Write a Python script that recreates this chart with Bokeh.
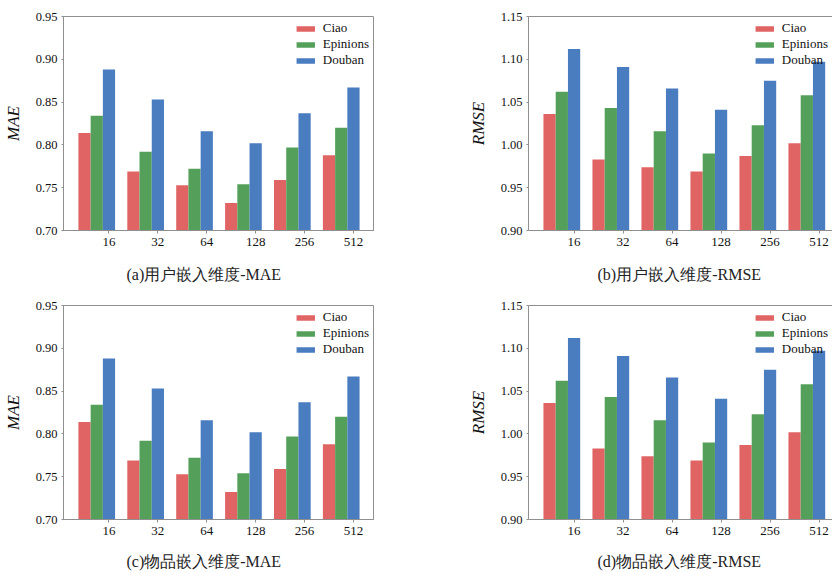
from bokeh.plotting import figure
from bokeh.layouts import column, row
from bokeh.models import (Range1d, FixedTicker, LinearAxis, ColumnDataSource,
                          PrintfTickFormatter, Title)
from bokeh.transform import dodge
from bokeh.embed import file_html
from bokeh.resources import INLINE

dims = ["16", "32", "64", "128", "256", "512"]
series = ["Ciao", "Epinions", "Douban"]

user_mae_ciao = [0.814, 0.769, 0.753, 0.732, 0.759, 0.788]
user_mae_epinions = [0.834, 0.792, 0.772, 0.754, 0.797, 0.820]
user_mae_douban = [0.888, 0.853, 0.816, 0.802, 0.837, 0.867]

user_rmse_ciao = [1.036, 0.983, 0.974, 0.969, 0.987, 1.002]
user_rmse_epinions = [1.062, 1.043, 1.016, 0.990, 1.023, 1.058]
user_rmse_douban = [1.112, 1.091, 1.066, 1.041, 1.075, 1.097]

item_mae_ciao = [0.814, 0.769, 0.753, 0.732, 0.759, 0.788]
item_mae_epinions = [0.834, 0.792, 0.772, 0.754, 0.797, 0.820]
item_mae_douban = [0.888, 0.853, 0.816, 0.802, 0.837, 0.867]

item_rmse_ciao = [1.036, 0.983, 0.974, 0.969, 0.987, 1.002]
item_rmse_epinions = [1.062, 1.043, 1.016, 0.990, 1.023, 1.058]
item_rmse_douban = [1.112, 1.091, 1.066, 1.041, 1.075, 1.097]

mae_ticks = [0.70, 0.75, 0.80, 0.85, 0.90, 0.95]
rmse_ticks = [0.90, 0.95, 1.00, 1.05, 1.10, 1.15]

captions = ["(a)用户嵌入维度-MAE", "(b)用户嵌入维度-RMSE",
            "(c)物品嵌入维度-MAE", "(d)物品嵌入维度-RMSE"]

colors = ["#e06464", "#54a05a", "#4a7cc0"]
FRAME = "#8f8f8f"
SERIF = "Liberation Serif"
X_START = -0.68


def panel(ciao, epin, douban, ticks, ylabel, caption, width, height,
          x_end, mb_left, mb_right, mb_top, mb_bottom, right_side,
          cap_offset, spacer, ylab_standoff):
    xs = list(range(len(dims)))
    src = ColumnDataSource(dict(x=xs, Ciao=ciao, Epinions=epin, Douban=douban))
    p = figure(width=width, height=height, output_backend="svg", toolbar_location=None,
               x_range=Range1d(X_START, x_end), y_range=Range1d(ticks[0], ticks[-1]),
               min_border_left=mb_left, min_border_right=mb_right,
               min_border_top=mb_top, min_border_bottom=mb_bottom)
    offs = [-0.25, 0.0, 0.25]
    for name, col, off in zip(series, colors, offs):
        p.vbar(x=dodge("x", off), top=name, bottom=ticks[0], width=0.25, source=src,
               fill_color=col, line_color=None, legend_label=name)
    p.grid.visible = False
    p.background_fill_color = "white"
    p.border_fill_color = "white"

    tick_pos = [x + 0.25 for x in xs]
    xa = p.below[0]
    xa.ticker = FixedTicker(ticks=tick_pos)
    xa.major_label_overrides = {t: d for t, d in zip(tick_pos, dims)}
    xa.minor_tick_line_color = None
    xa.major_tick_out = 3
    xa.major_tick_in = 0
    xa.major_tick_line_color = FRAME
    xa.axis_line_color = FRAME
    xa.major_label_text_font = SERIF
    xa.major_label_text_font_size = "13px"
    xa.major_label_text_color = "#111111"
    xa.major_label_standoff = 4

    ya = p.left[0]
    ya.ticker = FixedTicker(ticks=ticks)
    ya.formatter = PrintfTickFormatter(format="%.2f")
    ya.minor_tick_line_color = None
    ya.major_tick_out = 2
    ya.major_tick_in = 0
    ya.major_tick_line_color = FRAME
    ya.axis_line_color = FRAME
    ya.major_label_text_font = SERIF
    ya.major_label_text_font_size = "12.5px"
    ya.major_label_text_color = "#111111"
    ya.major_label_standoff = 4
    ya.axis_label = ylabel
    ya.axis_label_text_font = SERIF
    ya.axis_label_text_font_style = "italic"
    ya.axis_label_text_font_size = "17px"
    ya.axis_label_text_color = "#111111"
    ya.axis_label_standoff = ylab_standoff

    if right_side:
        p.outline_line_color = None
        top_ax = LinearAxis(axis_line_color=FRAME, major_tick_line_color=None,
                            minor_tick_line_color=None, major_label_text_font_size="0px")
        top_ax.ticker = FixedTicker(ticks=[])
        p.add_layout(top_ax, "above")
    else:
        p.outline_line_color = FRAME
        p.outline_line_width = 1

    lg = p.legend[0]
    lg.location = "top_right"
    lg.margin = 4
    lg.padding = 0
    lg.spacing = 0
    lg.border_line_color = None
    lg.background_fill_alpha = 0
    lg.glyph_width = 23
    lg.glyph_height = 7
    lg.label_height = 10
    lg.label_standoff = 6
    lg.label_text_font = SERIF
    lg.label_text_font_size = "13px"
    lg.label_text_color = "#111111"
    lg.label_text_line_height = 1.0

    # invisible spacing band between the tick labels and the caption:
    # a white, label-less tick whose length reserves vertical room
    gap = LinearAxis(axis_line_color=None, major_tick_line_color="white",
                     minor_tick_line_color=None, major_label_text_font_size="0px",
                     major_label_text_color=None,
                     major_tick_out=spacer, major_tick_in=0, major_label_standoff=0)
    gap.ticker = FixedTicker(ticks=[X_START + 0.01])
    gap.major_label_overrides = {X_START + 0.01: " "}
    p.add_layout(gap, "below")

    p.add_layout(Title(text=caption, align="left", offset=cap_offset,
                       text_font=SERIF, text_font_size="16px",
                       text_font_style="normal", text_color="#222222",
                       standoff=0), "below")
    return p


pa = panel(user_mae_ciao, user_mae_epinions, user_mae_douban, mae_ticks, "MAE", captions[0],
           416, 286, 5.66, 62, 43, 16, 56, False, 63, 15, 10)
pb = panel(user_rmse_ciao, user_rmse_epinions, user_rmse_douban, rmse_ticks, "RMSE", captions[1],
           416, 286, 5.524, 112, 0, 16, 56, True, 69, 15, 10)
pc = panel(item_mae_ciao, item_mae_epinions, item_mae_douban, mae_ticks, "MAE", captions[2],
           416, 286, 5.66, 62, 43, 19, 53, False, 63, 13, 10)
pd_ = panel(item_rmse_ciao, item_rmse_epinions, item_rmse_douban, rmse_ticks, "RMSE", captions[3],
            416, 286, 5.524, 112, 0, 19, 53, True, 69, 13, 10)

layout = column(row(pa, pb, spacing=0), row(pc, pd_, spacing=0), spacing=0)

open("out.html", "w").write(file_html(layout, INLINE))
